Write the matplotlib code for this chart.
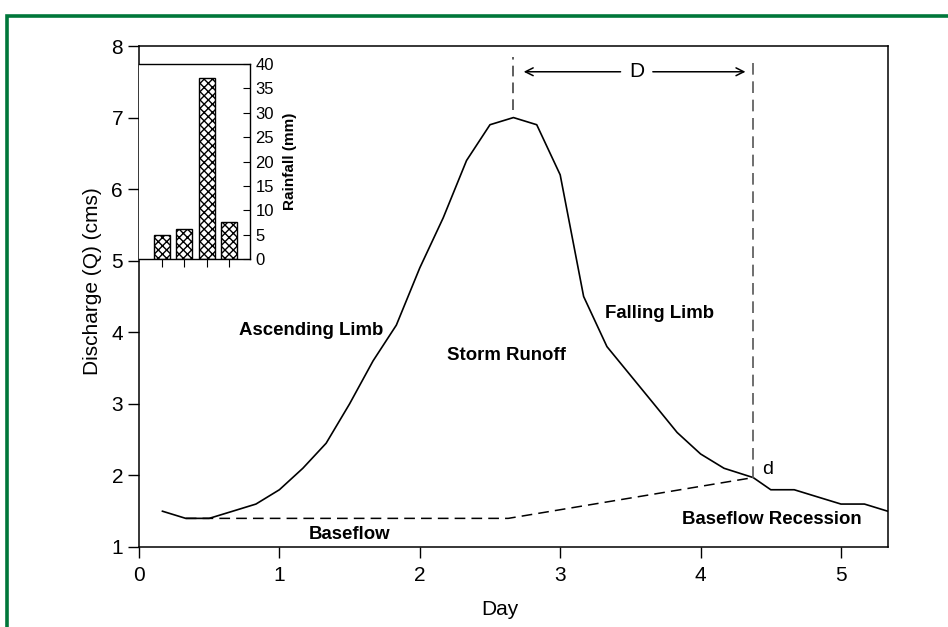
import matplotlib
matplotlib.use("Agg")
import matplotlib.pyplot as plt
from matplotlib.patches import Rectangle

# Storm hydrograph: discharge every 4 hours (days)
days = [0.167, 0.333, 0.5, 0.667, 0.833, 1.0, 1.167, 1.333, 1.5, 1.667, 1.833,
        2.0, 2.167, 2.333, 2.5, 2.667, 2.833, 3.0, 3.167, 3.333, 3.5, 3.667,
        3.833, 4.0, 4.167, 4.375, 4.5, 4.667, 4.833, 5.0, 5.167, 5.333]
discharge = [1.5, 1.4, 1.4, 1.5, 1.6, 1.8, 2.1, 2.45, 3.0, 3.6, 4.1,
             4.9, 5.6, 6.4, 6.9, 7.0, 6.9, 6.2, 4.5, 3.8, 3.4, 3.0,
             2.6, 2.3, 2.1, 1.97, 1.8, 1.8, 1.7, 1.6, 1.6, 1.5]

# Baseflow separation line
base_days = [0.333, 2.63, 4.375]
base_q = [1.4, 1.4, 1.97]

peak_day, peak_q = 2.667, 7.0
end_day, end_q = 4.375, 1.97

# Rainfall hyetograph
rain_periods = [0, 1, 2, 3]
rainfall = [5.0, 6.2, 37.2, 7.5]

x_ticks = [0, 1, 2, 3, 4, 5]
y_ticks = [1, 2, 3, 4, 5, 6, 7, 8]
rain_ticks = [0, 5, 10, 15, 20, 25, 30, 35, 40]

narrow = ["Liberation Sans Narrow", "Liberation Sans", "DejaVu Sans"]
sans = ["Liberation Sans", "DejaVu Sans"]

W, H = 948, 627
fig = plt.figure(figsize=(W / 100, H / 100), dpi=100)

# green frame around the figure
fig.patches.append(Rectangle((7 / W, -0.1), 1.2, 0.1 + (1 - 16 / H),
                             transform=fig.transFigure, fill=False,
                             edgecolor="#00773a", linewidth=2.6,
                             clip_on=False))

ax = fig.add_axes([139 / W, 1 - 547 / H, (888 - 139) / W, (547 - 46) / H])
ax.plot(days, discharge, color="black", lw=1.2)
ax.plot(base_days, base_q, color="black", lw=1.1, ls=(0, (7, 4)))

# time-to-end markers
ax.plot([peak_day, peak_day], [peak_q + 0.1, 7.85], color="#333333", lw=1.1,
        ls=(0, (7, 4)))
ax.plot([end_day, end_day], [end_q, 7.85], color="#555555", lw=1.2,
        ls=(0, (7, 4)))

ax.text(3.545, 7.64, "D", ha="center", va="center", fontsize=15,
        family=sans)
arrow = dict(arrowstyle="->", lw=1.1, color="black",
             shrinkA=0, shrinkB=0, mutation_scale=14)
ax.annotate("", xy=(2.74, 7.64), xytext=(3.43, 7.64), arrowprops=arrow)
ax.annotate("", xy=(4.32, 7.64), xytext=(3.66, 7.64), arrowprops=arrow)

ax.text(4.48, 2.08, "d", ha="center", va="center", fontsize=14, family=sans)

bold = dict(fontsize=13.4, fontweight="bold", family=sans,
            ha="center", va="center")
ax.text(1.23, 4.03, "Ascending Limb", **bold)
ax.text(2.62, 3.68, "Storm Runoff", **bold)
ax.text(3.71, 4.26, "Falling Limb", **bold)
ax.text(1.50, 1.17, "Baseflow", **bold)
ax.text(4.51, 1.39, "Baseflow Recession", **bold)

ax.set_xlim(0, 5.335)
ax.set_ylim(1, 8)
ax.set_xticks(x_ticks)
ax.set_yticks(y_ticks)
ax.tick_params(direction="out", length=8, width=1, labelsize=15,
               top=False, right=False)
ax.tick_params(axis="x", pad=6)
for lab in ax.get_xticklabels() + ax.get_yticklabels():
    lab.set_family(narrow)
ax.set_xlabel("Day", fontsize=15, family=narrow)
ax.set_ylabel("Discharge (Q) (cms)", fontsize=15, family=narrow)
ax.xaxis.set_label_coords(0.482, -0.105)
ax.yaxis.set_label_coords(-0.05, 0.53)
for s in ax.spines.values():
    s.set_linewidth(1.1)

# rainfall inset
ins = fig.add_axes([139 / W, 1 - 259 / H, (250 - 139) / W, (259 - 64) / H])
ins.bar(rain_periods, rainfall, width=0.7, color="white", edgecolor="black",
        hatch="xxxx", linewidth=1.0)
ins.set_xlim(-1.02, 3.93)
ins.set_ylim(0, 40)
ins.spines["left"].set_visible(False)
ins.yaxis.tick_right()
ins.yaxis.set_label_position("right")
ins.set_yticks(rain_ticks)
ins.set_xticks(rain_periods)
ins.set_xticklabels([])
ins.tick_params(axis="y", direction="in", length=5, labelsize=12, pad=4)
ins.tick_params(axis="x", direction="out", length=6)
for lab in ins.get_yticklabels():
    lab.set_family(narrow)
ins.set_ylabel("Rainfall (mm)", fontsize=11, fontweight="bold", family=sans,
               labelpad=6)
for s in ins.spines.values():
    s.set_linewidth(1.0)

fig.savefig("out.png", dpi=100)
